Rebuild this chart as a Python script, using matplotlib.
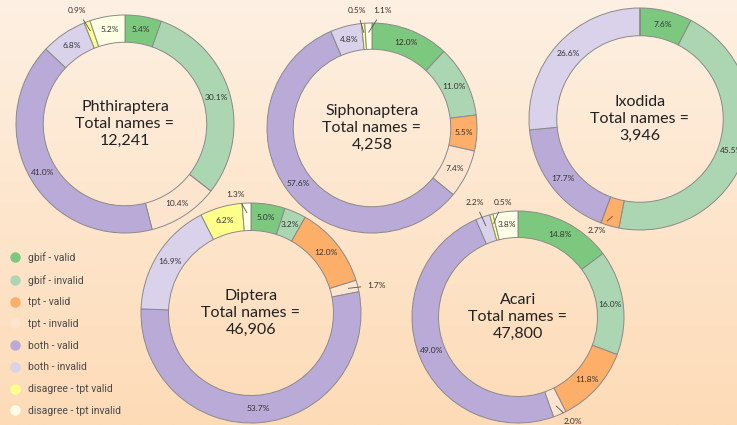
import numpy as np
import matplotlib.pyplot as plt
from matplotlib.lines import Line2D
from matplotlib.colors import to_rgb

plt.rcParams['font.family'] = ['Lato', 'DejaVu Sans']

W, H = 737, 425   # px

categories = ["gbif - valid", "gbif - invalid", "tpt - valid", "tpt - invalid",
              "both - valid", "both - invalid",
              "disagree - tpt valid", "disagree - tpt invalid"]
colors = ["#7dc87f", "#acd6b1", "#fdae68", "#fde4cf",
          "#b9aad7", "#d9d2ea", "#ffff8c", "#ffffe6"]

orders = ["Phthiraptera", "Siphonaptera", "Ixodida", "Diptera", "Acari"]
totals = [12241, 4258, 3946, 46906, 47800]

# percent per category, same order as categories
phthiraptera = [5.4, 30.1, 0.0, 10.4, 41.0, 6.8, 0.9, 5.2]
siphonaptera = [12.0, 11.0, 5.5, 7.4, 57.6, 4.8, 0.5, 1.1]
ixodida = [7.6, 45.5, 2.7, 0.0, 17.7, 26.6, 0.0, 0.0]
diptera = [5.0, 3.2, 12.0, 1.7, 53.7, 16.9, 6.2, 1.3]
acari = [14.8, 16.0, 11.8, 2.0, 49.0, 2.2, 0.5, 3.8]
shares = [phthiraptera, siphonaptera, ixodida, diptera, acari]

# layout (pixel coords, y from top): centre x, centre y, radius
layout = {
    "Phthiraptera": (125, 124, 109),
    "Siphonaptera": (372, 128, 105),
    "Ixodida": (640, 119, 111),
    "Diptera": (251, 313, 110),
    "Acari": (518, 317, 106),
}
# small slices labelled outside: (order, category index) -> label offset from centre (px, y up)
outside = {
    ("Phthiraptera", 6): (-48, 114),
    ("Siphonaptera", 6): (-15, 118),
    ("Siphonaptera", 7): (11, 118),
    ("Diptera", 7): (-15, 119),
    ("Diptera", 3): (126, 28),
    ("Ixodida", 2): (-43, -111),
    ("Acari", 5): (-43, 115),
    ("Acari", 6): (-15, 115),
    ("Acari", 3): (55, -105),
}

fig = plt.figure(figsize=(W / 100, H / 100), dpi=100)
ax = fig.add_axes([0, 0, 1, 1])

# background gradient
top, bottom = np.array(to_rgb("#fef0e2")), np.array(to_rgb("#fddbb7"))
t = np.linspace(0, 1, 256)[:, None]
grad = (top * (1 - t) + bottom * t)[:, None, :]
ax.imshow(grad, extent=(0, W, 0, H), aspect='auto', zorder=0, origin='upper')

for name, total, vals in zip(orders, totals, shares):
    cx, cy, r = layout[name]
    cy = H - cy
    w = r * 0.25
    wedges, _ = ax.pie(vals, colors=colors, radius=r, center=(cx, cy),
                       startangle=90, counterclock=False,
                       wedgeprops=dict(width=w, edgecolor="#8a8a8a", linewidth=0.7))
    for k, (wd, v) in enumerate(zip(wedges, vals)):
        if v <= 0:
            continue
        a = np.deg2rad((wd.theta1 + wd.theta2) / 2)
        lbl = f"{v:.1f}%"
        if (name, k) in outside:
            dx, dy = outside[(name, k)]
            rr = r - w * 0.35
            ax.annotate(lbl, xy=(cx + rr * np.cos(a), cy + rr * np.sin(a)),
                        xytext=(cx + dx, cy + dy), ha='center', va='center',
                        fontsize=6, color="#333333",
                        arrowprops=dict(arrowstyle='-', color="#555555", lw=0.6,
                                        shrinkA=3, shrinkB=0))
        else:
            rr = r - w / 2
            ax.text(cx + rr * np.cos(a), cy + rr * np.sin(a), lbl,
                    ha='center', va='center', fontsize=6, color="#333333")
    ax.text(cx, cy, f"{name}\nTotal names =\n{total:,}", ha='center', va='center',
            fontsize=11.5, color="#222222", linespacing=1.3)

handles = [Line2D([], [], marker='o', linestyle='', markersize=6.5,
                  markerfacecolor=c, markeredgecolor=c) for c in colors]
ax.legend(handles, categories, loc='upper left', bbox_to_anchor=(0.0136, 0.407),
          bbox_transform=fig.transFigure, frameon=False,
          labelspacing=1.125, handlelength=0.95, handletextpad=0.75,
          borderpad=0, borderaxespad=0, labelcolor="#4a4a4a",
          prop={'family': ['Roboto', 'DejaVu Sans'], 'size': 7.5})

ax.set_xlim(0, W)
ax.set_ylim(0, H)
ax.set_aspect('equal')
ax.axis('off')
fig.savefig("out.png", dpi=100)
